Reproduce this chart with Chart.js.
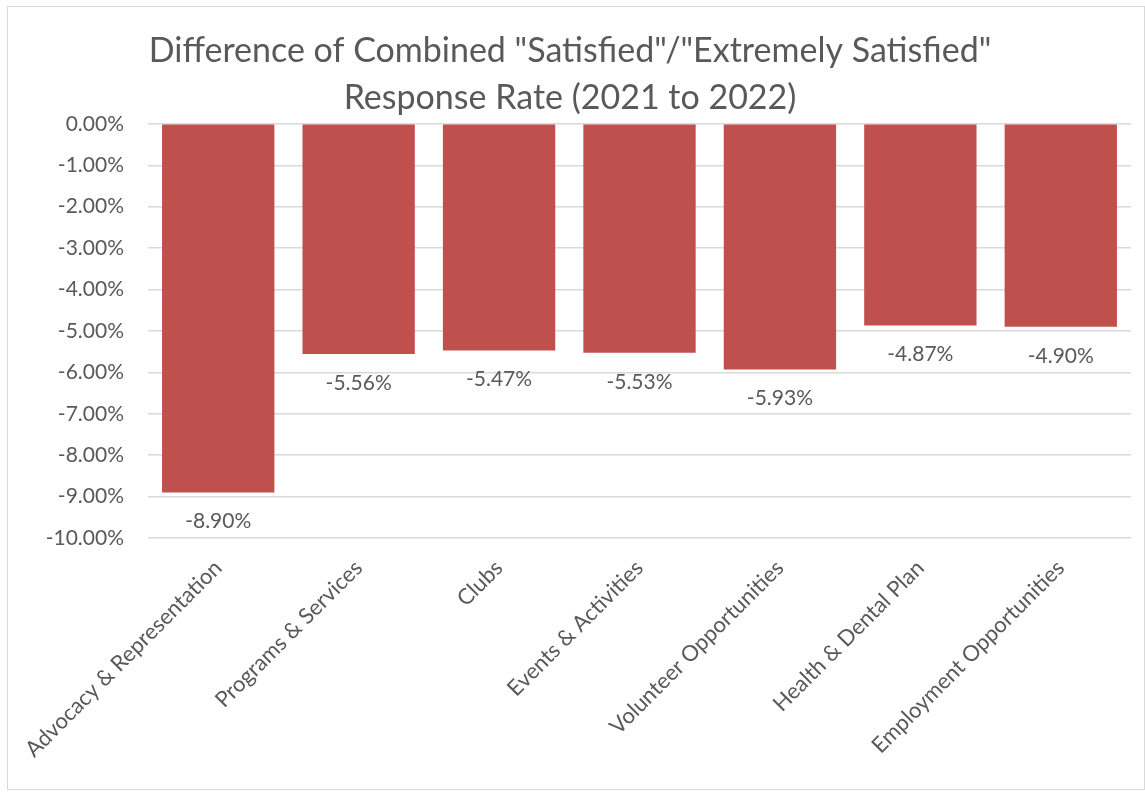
<!DOCTYPE html>
<html>
<head>
<meta charset="utf-8">
<title>Response Rate Difference</title>
<script src="https://cdn.jsdelivr.net/npm/chart.js@4"></script>
<style>
    html, body { margin: 0; padding: 0; background: #ffffff; }
    #frame {
        position: absolute;
        left: 7px; top: 6px;
        width: 1138px; height: 784px;
        border: 1px solid #d9d9d9;
        box-sizing: border-box;
    }
    #wrap { position: absolute; left: 1px; top: 1px; width: 1136px; height: 782px; }
</style>
</head>
<body>
<div id="frame"><div id="wrap"><canvas id="diffChart"></canvas></div></div>
<script>
// survey categories and change in satisfied response rate (percentage points)
const categories = [
    'Advocacy & Representation',
    'Programs & Services',
    'Clubs',
    'Events & Activities',
    'Volunteer Opportunities',
    'Health & Dental Plan',
    'Employment Opportunities'
];
const differences = [-8.90, -5.56, -5.47, -5.53, -5.93, -4.87, -4.90];
const titleLines = ['Difference of Combined "Satisfied"/"Extremely Satisfied"', 'Response Rate (2021 to 2022)'];

const FONT = 'Lato, "Open Sans", sans-serif';
const TEXT_COLOR = '#595959';
const BAR_COLOR = '#C0504D';

// value labels under the end of each bar
const barLabels = {
    id: 'barLabels',
    afterDatasetsDraw(chart) {
        const ctx = chart.ctx;
        const meta = chart.getDatasetMeta(0);
        ctx.save();
        ctx.font = '21px ' + FONT;
        ctx.fillStyle = TEXT_COLOR;
        ctx.textAlign = 'center';
        ctx.textBaseline = 'middle';
        meta.data.forEach((bar, i) => {
            ctx.fillText(differences[i].toFixed(2) + '%', bar.x, bar.y + 29);
        });
        ctx.restore();
    }
};

const ctx = document.getElementById('diffChart').getContext('2d');
new Chart(ctx, {
    type: 'bar',
    data: {
        labels: categories,
        datasets: [{
            data: differences,
            backgroundColor: BAR_COLOR,
            borderWidth: 0,
            barPercentage: 0.8,
            categoryPercentage: 1.0
        }]
    },
    options: {
        responsive: true,
        maintainAspectRatio: false,
        animation: false,
        layout: { padding: { left: 0, right: 14, top: 0, bottom: 0 } },
        plugins: {
            legend: { display: false },
            tooltip: { enabled: false },
            title: {
                display: true,
                text: titleLines,
                color: TEXT_COLOR,
                font: { family: FONT, size: 34, weight: 'normal', lineHeight: 1.38 },
                padding: { top: 20, bottom: 2 }
            }
        },
        scales: {
            x: {
                grid: { display: false },
                border: { display: false },
                ticks: {
                    color: TEXT_COLOR,
                    font: { family: FONT, size: 22 },
                    maxRotation: 45,
                    minRotation: 45,
                    padding: 9
                },
                afterFit(scale) { scale.height = 252; }
            },
            y: {
                min: -10,
                max: 0,
                grid: { color: '#d9d9d9', lineWidth: 1.5, drawTicks: false },
                border: { display: false },
                ticks: {
                    stepSize: 1,
                    color: TEXT_COLOR,
                    font: { family: FONT, size: 21 },
                    padding: 24,
                    callback: v => v.toFixed(2) + '%'
                },
                afterFit(scale) { scale.width = 139; }
            }
        }
    },
    plugins: [barLabels]
});
</script>
</body>
</html>
